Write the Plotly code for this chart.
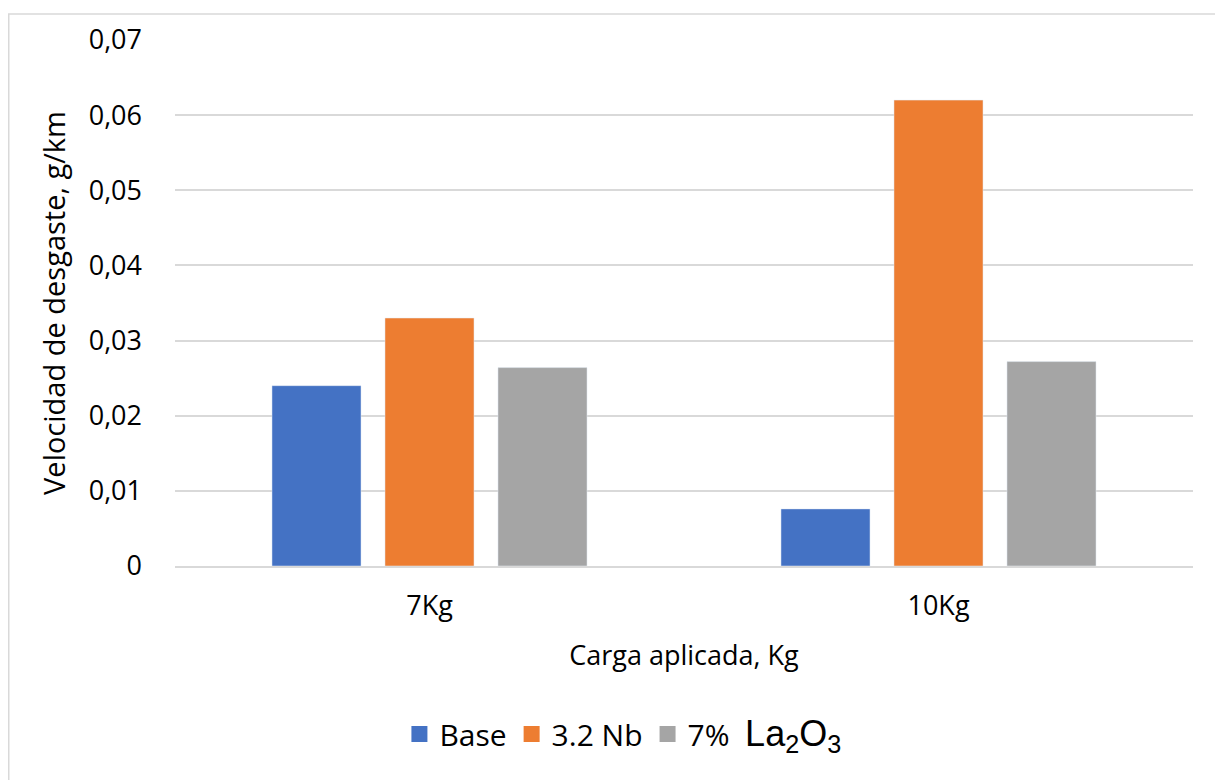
import plotly.graph_objects as go

categorias = ["7Kg", "10Kg"]
base = [0.024, 0.0076]
nb = [0.033, 0.062]
la2o3 = [0.0264, 0.0272]
y_ticks = [0, 0.01, 0.02, 0.03, 0.04, 0.05, 0.06, 0.07]

nombres = ["Base", "3.2 Nb",
           "7%  <span style='font-family:Liberation Sans;font-size:36px'>La<sub>2</sub>O<sub>3</sub></span>"]
colores = ["#4472c4", "#ed7d31", "#a5a5a5"]
series = [base, nb, la2o3]

fuente = "Open Sans, Noto Sans, sans-serif"

fig = go.Figure()
for nombre, color, valores in zip(nombres, colores, series):
    fig.add_trace(go.Bar(x=categorias, y=valores, name=nombre, marker_color=color,
                         showlegend=False))
# legend entries with bigger squares, like the excel legend
for nombre, color in zip(nombres, colores):
    fig.add_trace(go.Scatter(x=[categorias[0]], y=[None], mode="markers", name=nombre,
                             marker=dict(symbol="square", size=20, color=color)))

fig.update_layout(
    width=1223, height=780,
    margin=dict(l=167, r=38, t=27, b=222),
    paper_bgcolor="white", plot_bgcolor="white",
    separators=",.",
    barmode="group", bargap=0.334, bargroupgap=0.212,
    font=dict(family=fuente, color="#000000"),
    legend=dict(orientation="h", x=0.44, xanchor="center", y=-0.27, yanchor="top",
                font=dict(size=30), itemwidth=30, traceorder="normal"),
    shapes=[dict(type="rect", xref="paper", yref="paper", x0=-0.1633, x1=1.0285,
                 y0=-0.45, y1=1.0494, line=dict(color="#d9d9d9", width=1.5))],
)

fig.update_yaxes(range=[0, 0.07], tickvals=y_ticks, showgrid=True, gridcolor="#d9d9d9",
                 gridwidth=1.5, zeroline=False, showline=False, ticks="",
                 tickfont=dict(size=27), ticklabelstandoff=32,
                 title=dict(text="Velocidad de desgaste, g/km", font=dict(size=29), standoff=14))
fig.update_xaxes(showline=True, linecolor="#d9d9d9", linewidth=1.5, ticks="",
                 tickfont=dict(size=27), ticklabelstandoff=15,
                 title=dict(text="Carga aplicada, Kg", font=dict(size=27), standoff=24))

fig.write_html("out.html")
